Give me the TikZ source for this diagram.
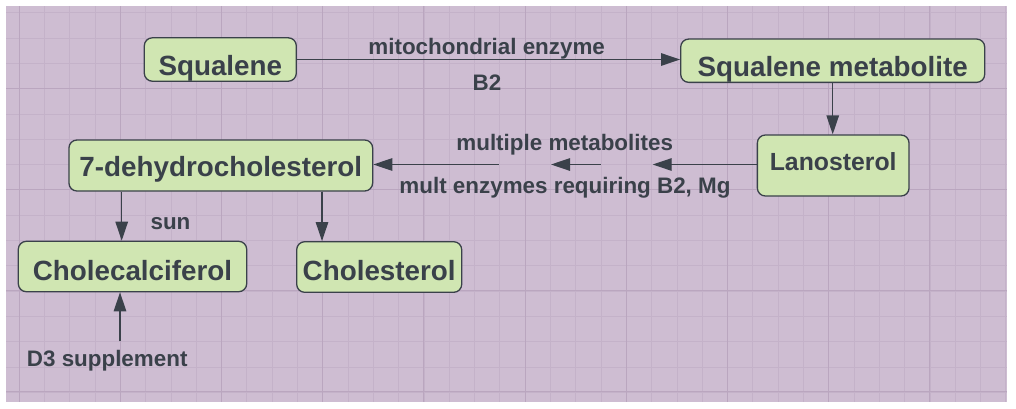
\documentclass[tikz,border=0pt]{standalone}
\usepackage{fontspec}
\setmainfont{Liberation Sans}
\usetikzlibrary{arrows.meta}
\definecolor{bgpurple}{RGB}{206,189,210}
\definecolor{gridminor}{RGB}{196,178,201}
\definecolor{gridmajor}{RGB}{186,166,191}
\definecolor{boxgreen}{RGB}{208,230,178}
\definecolor{inkgray}{RGB}{58,65,74}
\tikzset{
    compound/.style={rectangle, rounded corners=8pt, draw=inkgray, line width=1.3pt,
        fill=boxgreen, text=inkgray, inner sep=0pt,
        font=\bfseries\fontsize{27.8}{30}\selectfont},
    % text baseline sits below the box centre by half of #1
    textdrop/.style={text height=#1, text depth=0pt},
    note/.style={text=inkgray, inner sep=0pt, anchor=base,
        font=\bfseries\fontsize{22.4}{24}\selectfont},
    conv/.style={draw=inkgray, line width=1.3pt, -{Triangle[length=19pt,width=12.5pt]}},
}

\begin{document}
\begin{tikzpicture}[x=1pt, y=-1pt]
    \useasboundingbox (0,0) rectangle (1016,408);
    \fill[white] (0,0) rectangle (1016,408);
    \fill[bgpurple] (6,6) rectangle (1007,402);
    \begin{scope}
        \clip (6,6) rectangle (1007,402);
        \foreach \i in {0,...,39}
            \draw[gridminor, line width=0.8pt] ({19.1+25.3*\i},6) -- ({19.1+25.3*\i},402);
        \foreach \i in {0,...,15}
            \draw[gridminor, line width=0.8pt] (6,{12.7+25.3*\i}) -- (1007,{12.7+25.3*\i});
        \foreach \i in {0,...,9}
            \draw[gridmajor, line width=1pt] ({19.1+101.2*\i},6) -- ({19.1+101.2*\i},402);
        \foreach \i in {0,...,3}
            \draw[gridmajor, line width=1pt] (6,{88.3+101.2*\i}) -- (1007,{88.3+101.2*\i});
    \end{scope}

    \node (squalene) [compound, textdrop=32pt, minimum width=152pt, minimum height=43.4pt] at (220.3,59.5) {Squalene};
    \node (metab) [compound, textdrop=30.6pt, minimum width=304pt, minimum height=43.3pt] at (832.7,60.7) {Squalene metabolite};
    \node (lano) [compound, textdrop=10.4pt, minimum width=151.7pt, minimum height=61pt,
        font=\bfseries\fontsize{24.8}{27}\selectfont] at (833.2,165.5) {Lanosterol};
    \node (dehydro) [compound, textdrop=22.4pt, minimum width=303.7pt, minimum height=51pt] at (220.8,165.5) {7-dehydrocholesterol};
    \node (calcif) [compound, textdrop=27pt, minimum width=228.4pt, minimum height=50.4pt] at (132.5,266.5) {Cholecalciferol};
    \node (cholest) [compound, textdrop=26pt, minimum width=165pt, minimum height=50.6pt] at (379.2,267) {Cholesterol};

    \node (enzyme) [note] at (486.7,54.5) {mitochondrial enzyme};
    \node (btwo) [note] at (487,90) {B2};
    \node (multi) [note] at (564.7,150.7) {multiple metabolites};
    \node (multenz) [note] at (565,193.3) {mult enzymes requiring B2, Mg};
    \node (sun) [note] at (170.5,229) {sun};
    \node (dthree) [note] at (107.2,366) {D3 supplement};

    \coordinate (m1) at (652.7,164.5);
    \coordinate (m2) at (600.5,164.5);
    \coordinate (m3) at (551,164.5);
    \coordinate (m4) at (498.5,164.5);
    \coordinate (d3top) at (120,341.3);

    \draw[conv] (squalene.east) -- (squalene.east -| metab.west);
    \draw[conv] (metab.south) -- (metab.south |- lano.north);
    \draw[conv] (lano.west |- m1) -- (m1);
    \draw[conv] (m2) -- (m3);
    \draw[conv] (m4) -- (m4 -| dehydro.east);
    \draw[conv] ([xshift=-99.1pt]dehydro.south) -- ([xshift=-99.1pt]dehydro.south |- calcif.north);
    \draw[conv] ([xshift=101.2pt]dehydro.south) -- ([xshift=101.2pt]dehydro.south |- cholest.north);
    \draw[conv] (d3top) -- (d3top |- calcif.south);
\end{tikzpicture}
\end{document}
